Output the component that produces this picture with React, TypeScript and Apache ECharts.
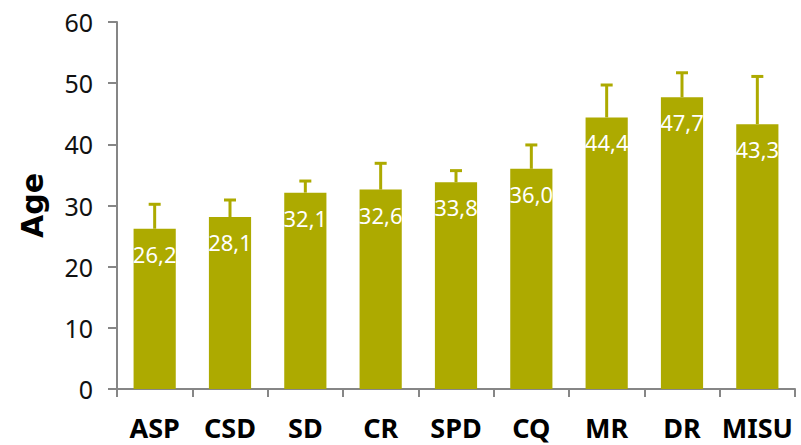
import React, { useEffect, useRef } from "react";
import * as echarts from "echarts";

const categories = ["ASP", "CSD", "SD", "CR", "SPD", "CQ", "MR", "DR", "MISU"];
const meanAge = [26.2, 28.1, 32.1, 32.6, 33.8, 36.0, 44.4, 47.7, 43.3];
const sdAge = [4.0, 2.8, 1.9, 4.3, 1.9, 3.9, 5.3, 4.0, 7.8];
const yTicks = [0, 10, 20, 30, 40, 50, 60];

const BAR = "#ADAA00";
const AXIS = "#868686";
const FONT = "'Noto Sans', 'DejaVu Sans', sans-serif";

export default function App() {
  const ref = useRef<HTMLDivElement>(null);
  useEffect(() => {
    if (!ref.current) return;
    const chart = echarts.init(ref.current, null, { renderer: "svg" });
    const errData = meanAge.map((v, i) => [i, v, sdAge[i]]);
    chart.setOption({
      animation: false,
      backgroundColor: "#ffffff",
      grid: { left: 117, right: 6, top: 22, bottom: 56 },
      xAxis: {
        type: "category",
        data: categories,
        axisLine: { lineStyle: { color: AXIS, width: 2 } },
        axisTick: { show: true, length: 8, lineStyle: { color: AXIS, width: 2 } },
        axisLabel: {
          color: "#000",
          fontFamily: FONT,
          fontWeight: "bold",
          fontSize: 27,
          lineHeight: 27,
          margin: 25,
          interval: 0,
        },
      },
      yAxis: {
        type: "value",
        min: yTicks[0],
        max: yTicks[yTicks.length - 1],
        interval: 10,
        name: "Age",
        nameLocation: "middle",
        nameRotate: 90,
        nameGap: 70,
        nameTextStyle: { color: "#000", fontFamily: "'DejaVu Sans', sans-serif", fontWeight: "bold", fontSize: 30 },
        axisLine: { show: true, lineStyle: { color: AXIS, width: 2 } },
        axisTick: { show: true, length: 9, lineStyle: { color: AXIS, width: 2 } },
        splitLine: { show: false },
        axisLabel: { color: "#111", fontFamily: FONT, fontSize: 25, margin: 24 },
      },
      series: [
        {
          type: "bar",
          data: meanAge,
          barWidth: "56%",
          itemStyle: { color: BAR },
          label: {
            show: true,
            position: "insideTop",
            distance: 14,
            color: "#fff",
            fontFamily: FONT,
            fontSize: 22,
            formatter: (p: any) => Number(p.value).toFixed(1).replace(".", ","),
          },
          z: 2,
        },
        {
          type: "custom",
          data: errData,
          z: 3,
          renderItem: (params: any, api: any) => {
            const i = api.value(0);
            const v = api.value(1);
            const e = api.value(2);
            const base = api.coord([i, v]);
            const top = api.coord([i, v + e]);
            const half = 6;
            return {
              type: "group",
              children: [
                {
                  type: "line",
                  shape: { x1: base[0], y1: base[1], x2: top[0], y2: top[1] },
                  style: { stroke: BAR, lineWidth: 3 },
                },
                {
                  type: "line",
                  shape: { x1: top[0] - half, y1: top[1], x2: top[0] + half, y2: top[1] },
                  style: { stroke: BAR, lineWidth: 3 },
                },
              ],
            };
          },
        },
      ],
    });
    return () => chart.dispose();
  }, []);
  return <div ref={ref} style={{ width: 801, height: 445, position: "absolute", left: 0, top: 0 }} />;
}
